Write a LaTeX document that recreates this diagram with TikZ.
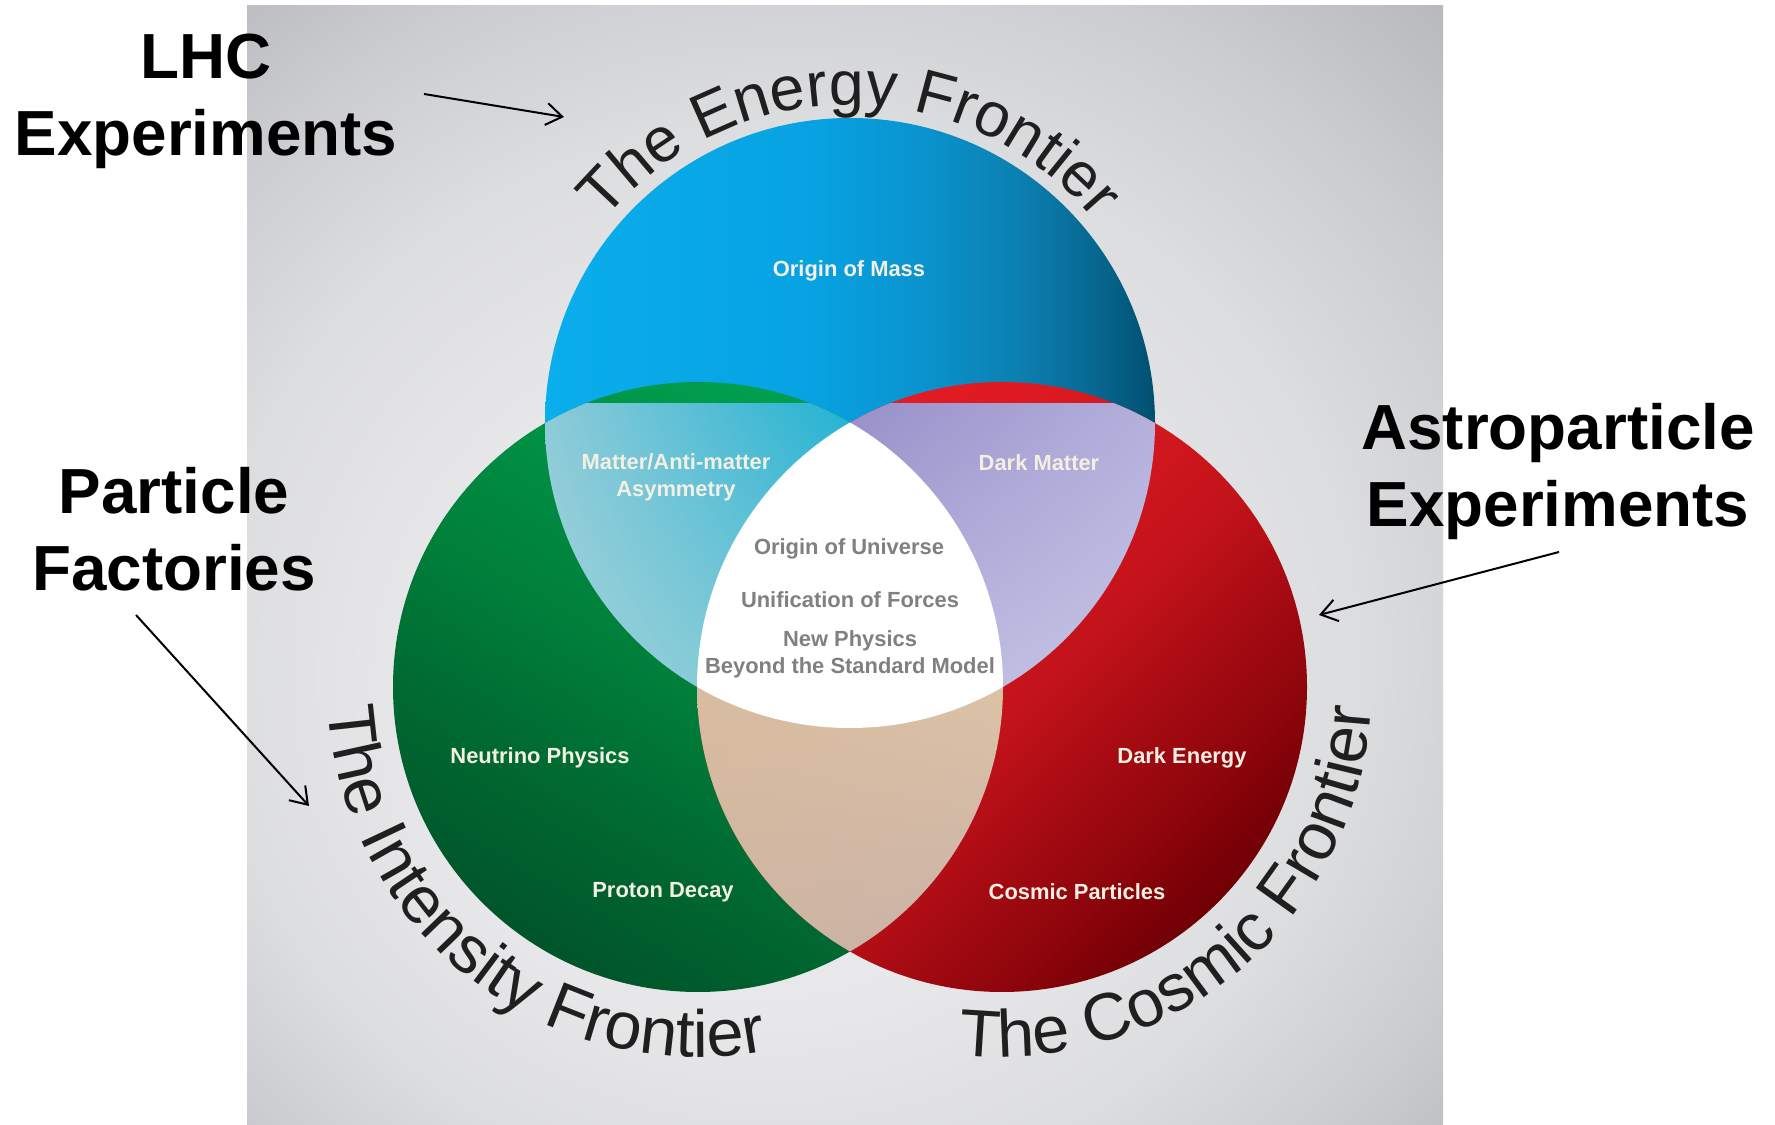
\documentclass[tikz,border=0pt]{standalone}
\usepackage{fontspec}
\setmainfont{Liberation Sans}
\usetikzlibrary{calc,decorations.text,arrows.meta,shadings}

% palette
\definecolor{bgA}{HTML}{EDEDEF}
\definecolor{bgB}{HTML}{E7E7E9}
\definecolor{bgC}{HTML}{DCDDDF}
\definecolor{bgD}{HTML}{CCCDD0}
\definecolor{bgE}{HTML}{B9BBBF}
\definecolor{bgF}{HTML}{ABADB1}
\definecolor{eA}{HTML}{0AAEEC}
\definecolor{eB}{HTML}{07A2E2}
\definecolor{eC}{HTML}{0A93CE}
\definecolor{eD}{HTML}{0B7FB0}
\definecolor{eE}{HTML}{076891}
\definecolor{eF}{HTML}{004F6F}
\definecolor{iA}{HTML}{00552A}
\definecolor{iB}{HTML}{006A31}
\definecolor{iC}{HTML}{00803B}
\definecolor{iD}{HTML}{009145}
\definecolor{iE}{HTML}{00A04F}
\definecolor{cA}{HTML}{700005}
\definecolor{cB}{HTML}{8C050B}
\definecolor{cC}{HTML}{A80B13}
\definecolor{cD}{HTML}{C4131B}
\definecolor{cE}{HTML}{D6181F}
\definecolor{cF}{HTML}{E41C24}
\definecolor{tealUL}{HTML}{8FCBD8}
\definecolor{tealUR}{HTML}{1FB2D3}
\definecolor{tealLL}{HTML}{A6D4DA}
\definecolor{tealLR}{HTML}{6CC3D5}
\definecolor{lilacUL}{HTML}{978FC8}
\definecolor{lilacUR}{HTML}{B4B0DC}
\definecolor{lilacLL}{HTML}{BAB7DF}
\definecolor{lilacLR}{HTML}{C8C6E6}
\definecolor{sandUL}{HTML}{D9BC9F}
\definecolor{sandUR}{HTML}{DCC2A6}
\definecolor{sandLL}{HTML}{CDB4A2}
\definecolor{sandLR}{HTML}{C9B2A8}
\definecolor{labelwhite}{HTML}{F4EFE3}
\definecolor{coregray}{HTML}{808082}
\definecolor{frontier}{HTML}{1F1F1F}

% shadings (a path's bounding box covers the central 25bp--75bp of a shading)
\pgfdeclareradialshading{bgshade}{\pgfpoint{-5bp}{-8bp}}{color(0bp)=(bgA); color(15bp)=(bgB); color(24bp)=(bgC); color(31bp)=(bgD); color(37bp)=(bgE); color(43bp)=(bgF); color(50bp)=(bgF)}
\pgfdeclarehorizontalshading{energyfade}{100bp}{color(0bp)=(eA); color(25bp)=(eA); color(47bp)=(eB); color(56bp)=(eC); color(64bp)=(eD); color(70bp)=(eE); color(75bp)=(eF); color(100bp)=(eF)}
\pgfdeclareverticalshading{intensityfade}{100bp}{color(0bp)=(iA); color(25bp)=(iA); color(38bp)=(iB); color(50bp)=(iC); color(62bp)=(iD); color(75bp)=(iE); color(100bp)=(iE)}
\pgfdeclareverticalshading{cosmicfade}{100bp}{color(0bp)=(cA); color(25bp)=(cA); color(32bp)=(cB); color(40bp)=(cC); color(48bp)=(cD); color(58bp)=(cE); color(75bp)=(cF); color(100bp)=(cF)}

\tikzset{
  topic/.style={font=\fontsize{22}{27}\selectfont\bfseries, text=labelwhite, align=center, inner sep=0pt},
  core/.style={font=\fontsize{22}{27}\selectfont\bfseries, text=coregray, align=center, inner sep=0pt},
  note/.style={font=\fontsize{64}{77}\selectfont\bfseries, text=black, align=center, inner sep=0pt, anchor=north},
  pointer/.style={line width=2bp, -{Straight Barb[length=16bp,width=22bp,line width=2bp]}},
}

\newcommand{\ringtext}[2]{|\fontsize{#1}{79}\selectfont\color{frontier}|#2}

\begin{document}
\begin{tikzpicture}[x=1bp,y=1bp]
\useasboundingbox (0,0) rectangle (1775,1124);
\fill[white] (0,0) rectangle (1775,1124);
\shade[shading=bgshade] (247,0) rectangle (1443,1118);

\def\R{305}
\coordinate (cEn) at (850,701);
\coordinate (cIn) at (698,437);
\coordinate (cCo) at (1002,437);

% the three frontiers
\shade[shading=energyfade] (cEn) circle[radius=\R];
\shade[shading=intensityfade, shading angle=-30] (cIn) circle[radius=\R];
\shade[shading=cosmicfade, shading angle=45] (cCo) circle[radius=\R];

% pairwise overlaps
\begin{scope}
  \clip (cEn) circle[radius=\R];
  \clip (cIn) circle[radius=\R];
  \shade[upper left=tealUL, upper right=tealUR, lower left=tealLL, lower right=tealLR]
    (540,430) rectangle (860,720);
\end{scope}
\begin{scope}
  \clip (cEn) circle[radius=\R];
  \clip (cCo) circle[radius=\R];
  \shade[upper left=lilacUL, upper right=lilacUR, lower left=lilacLL, lower right=lilacLR]
    (840,430) rectangle (1160,720);
\end{scope}
\begin{scope}
  \clip (cIn) circle[radius=\R];
  \clip (cCo) circle[radius=\R];
  \shade[upper left=sandUL, upper right=sandUR, lower left=sandLL, lower right=sandLR]
    (690,160) rectangle (1010,440);
\end{scope}
% common core
\begin{scope}
  \clip (cEn) circle[radius=\R];
  \clip (cIn) circle[radius=\R];
  \fill[white] (cCo) circle[radius=\R];
\end{scope}

% frontier names along the rims
\path[decorate, decoration={text along path, text align=center,
      text={\ringtext{63}{The Energy Frontier}}}]
  ($(cEn)+(155:318)$) arc[start angle=155, end angle=25, radius=318];
\path[decorate, decoration={text along path, text align=center,
      text={\ringtext{67}{The Intensity Frontier}}}]
  ($(cIn)+(167:370)$) arc[start angle=167, end angle=297, radius=370];
\path[decorate, decoration={text along path, text align=center,
      text={\ringtext{67}{The Cosmic Frontier}}}]
  ($(cCo)+(245:370)$) arc[start angle=245, end angle=375, radius=370];

% topics
\node[topic] (mass) at (849,853) {Origin of Mass};
\node[topic] (asym) at (676,647) {Matter/Anti-matter\\Asymmetry};
\node[topic] (dm) at (1039,661) {Dark Matter};
\node[topic] (nu) at (540,366) {Neutrino Physics};
\node[topic] (pdecay) at (663,232) {Proton Decay};
\node[topic] (de) at (1182,366) {Dark Energy};
\node[topic] (cp) at (1077,232) {Cosmic Particles};
\node[core] (univ) at (849,575) {Origin of Universe};
\node[core] (unif) at (850,524) {Unification of Forces};
\node[core] (bsm) at (850,470) {New Physics\\Beyond the Standard Model};

% experiment families
\node[note] (lhc) at (206,1090) {LHC\\Experiments};
\node[note] (fact) at (174,657) {Particle\\Factories};
\node[note] (astro) at (1558,721) {Astroparticle\\Experiments};

\coordinate (lhcTail) at (424,1030);
\coordinate (lhcTip) at (564,1007);
\coordinate (factTail) at (136,509);
\coordinate (factTip) at (309,318);
\coordinate (astroTail) at (1559,572);
\coordinate (astroTip) at (1319,509);
\draw[pointer] (lhcTail) -- (lhcTip);
\draw[pointer] (factTail) -- (factTip);
\draw[pointer] (astroTail) -- (astroTip);
\end{tikzpicture}
\end{document}
